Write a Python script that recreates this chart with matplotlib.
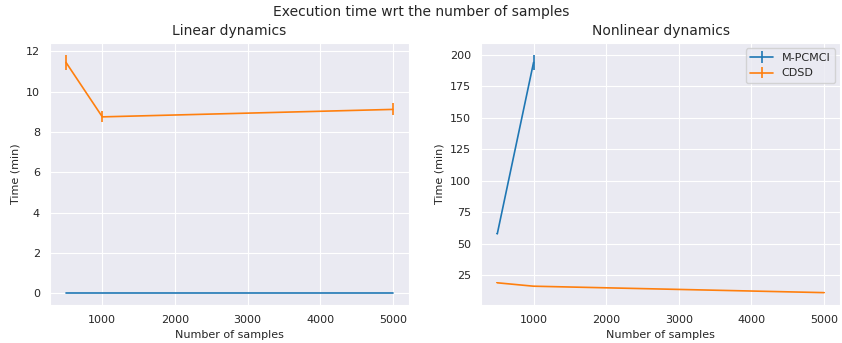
import matplotlib
matplotlib.use('Agg')
import matplotlib.pyplot as plt
import seaborn as sns

sns.set_style('darkgrid')
plt.rcParams['lines.linewidth'] = 1.2

samples = [500, 1000, 5000]

# linear dynamics
lin_pcmci = [0.01, 0.01, 0.01]
lin_pcmci_err = [0.0, 0.0, 0.0]
lin_cdsd = [11.45, 8.75, 9.12]
lin_cdsd_err = [0.38, 0.27, 0.3]

# nonlinear dynamics (M-PCMCI only run up to 1000 samples)
nl_samples_pcmci = [500, 1000]
nl_pcmci = [58.0, 194.0]
nl_pcmci_err = [0.5, 6.0]
nl_cdsd = [19.2, 16.5, 11.4]
nl_cdsd_err = [0.4, 0.3, 0.3]

fig, (ax1, ax2) = plt.subplots(1, 2, figsize=(8.42, 3.43), dpi=100)

ax1.errorbar(samples, lin_pcmci, yerr=lin_pcmci_err, label='M-PCMCI')
ax1.errorbar(samples, lin_cdsd, yerr=lin_cdsd_err, label='CDSD')
ax1.set_title('Linear dynamics', fontsize=10)
ax1.set_xlabel('Number of samples', fontsize=8)
ax1.set_ylabel('Time (min)', fontsize=8)

ax2.errorbar(nl_samples_pcmci, nl_pcmci, yerr=nl_pcmci_err, label='M-PCMCI')
ax2.errorbar(samples, nl_cdsd, yerr=nl_cdsd_err, label='CDSD')
ax2.set_title('Nonlinear dynamics', fontsize=10)
ax2.set_xlabel('Number of samples', fontsize=8)
ax2.set_ylabel('Time (min)', fontsize=8)
ax2.legend(loc='upper right', fontsize=8)

for ax in (ax1, ax2):
    ax.tick_params(labelsize=8)

fig.suptitle('Execution time wrt the number of samples', fontsize=10, y=0.985)
fig.subplots_adjust(left=0.059, right=0.998, bottom=0.111, top=0.875, wspace=0.2)
plt.savefig('out.png')
